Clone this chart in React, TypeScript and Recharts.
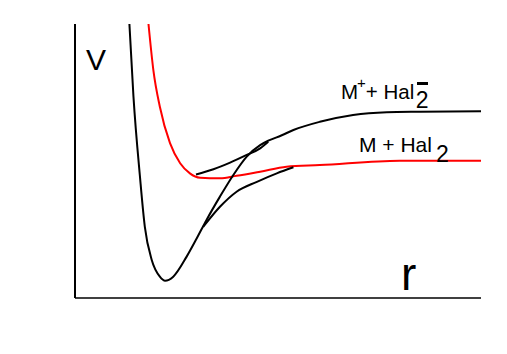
import React from 'react';
import { LineChart, Line, XAxis, YAxis, ReferenceLine } from 'recharts';

// Arbitrary units: r from 0 to 100 across the plot, V from 0 to 100 up the plot
// Ionic curve M+ + Hal2- (adiabatic, black)
const ionicR = [13.4, 14.4, 16.0, 17.2, 18.9, 20.9, 22.2, 24.2, 27.5, 30.0, 32.4, 35.7, 39.0, 42.3, 45.6, 47.6, 50.8, 53.8, 60.3, 68.5, 76.8, 85.0, 100];
const ionicV = [100, 73.5, 44.3, 26.0, 13.9, 7.8, 6.3, 7.8, 15.1, 21.8, 28.5, 37.0, 44.9, 51.6, 55.8, 57.4, 59.3, 61.3, 64.3, 66.8, 67.8, 68.0, 68.2];

// Covalent curve M + Hal2 (red)
const covalentR = [18.1, 19.3, 20.9, 23.4, 25.9, 28.3, 30.8, 35.7, 39.8, 45.6, 52.1, 60.3, 80.0, 100];
const covalentV = [100, 83.2, 69.8, 56.5, 49.2, 45.5, 43.9, 43.7, 44.6, 46.1, 47.9, 48.5, 50.1, 50.1];

// Upper crossing branch
const upperR = [29.8, 34.1, 38.2, 42.3, 45.6, 47.6];
const upperV = [45.1, 47.0, 49.4, 52.2, 54.6, 57.0];

// Lower crossing branch
const lowerR = [31.6, 35.7, 39.8, 44.8, 49.7, 53.8];
const lowerV = [26.0, 33.3, 38.8, 42.4, 45.5, 47.7];

const toPoints = (rs: number[], vs: number[]) => rs.map((r, i) => ({ r, v: vs[i] }));

const ionicData = toPoints(ionicR, ionicV);
const covalentData = toPoints(covalentR, covalentV);
const upperData = toPoints(upperR, upperV);
const lowerData = toPoints(lowerR, lowerV);

const FONT = '"Liberation Sans", Arial, sans-serif';

const App = () => {
  return (
    <div style={{ position: 'absolute', left: 0, top: 0, width: 507, height: 354, background: '#fff' }}>
      <LineChart
        width={507}
        height={354}
        margin={{ top: 24, right: 26, bottom: 56, left: 75 }}
      >
        <XAxis type="number" dataKey="r" domain={[0, 100]} hide />
        <YAxis type="number" dataKey="v" domain={[0, 100]} hide />
        <ReferenceLine x={0} stroke="#000" strokeWidth={2} />
        <ReferenceLine y={0} stroke="#000" strokeWidth={1.5} />
        <Line data={covalentData} dataKey="v" type="monotone" stroke="#ff0000" strokeWidth={2} dot={false} isAnimationActive={false} />
        <Line data={upperData} dataKey="v" type="monotone" stroke="#000" strokeWidth={2} dot={false} isAnimationActive={false} />
        <Line data={lowerData} dataKey="v" type="monotone" stroke="#000" strokeWidth={2} dot={false} isAnimationActive={false} />
        <Line data={ionicData} dataKey="v" type="monotone" stroke="#000" strokeWidth={2} dot={false} isAnimationActive={false} />
      </LineChart>
      <svg
        width={507}
        height={354}
        style={{ position: 'absolute', left: 0, top: 0, pointerEvents: 'none' }}
        fontFamily={FONT}
      >
        <text x={86} y={70} fontSize={30} fill="#000">V</text>
        <text x={401} y={290} fontSize={46} fill="#000">r</text>
        <text x={341} y={99} fontSize={20.5} fill="#000">
          M
          <tspan dx={-1} dy={-11} fontSize={15}>+</tspan>
          <tspan dy={11}>+ Hal</tspan>
          <tspan dx={1.5} dy={9} fontSize={23}>2</tspan>
        </text>
        <rect x={417} y={82} width={11} height={3} fill="#000" />
        <text x={359} y={152} fontSize={21} fill="#000">
          M + Hal
          <tspan dx={4} dy={10} fontSize={23}>2</tspan>
        </text>
      </svg>
    </div>
  );
};

export default App;
